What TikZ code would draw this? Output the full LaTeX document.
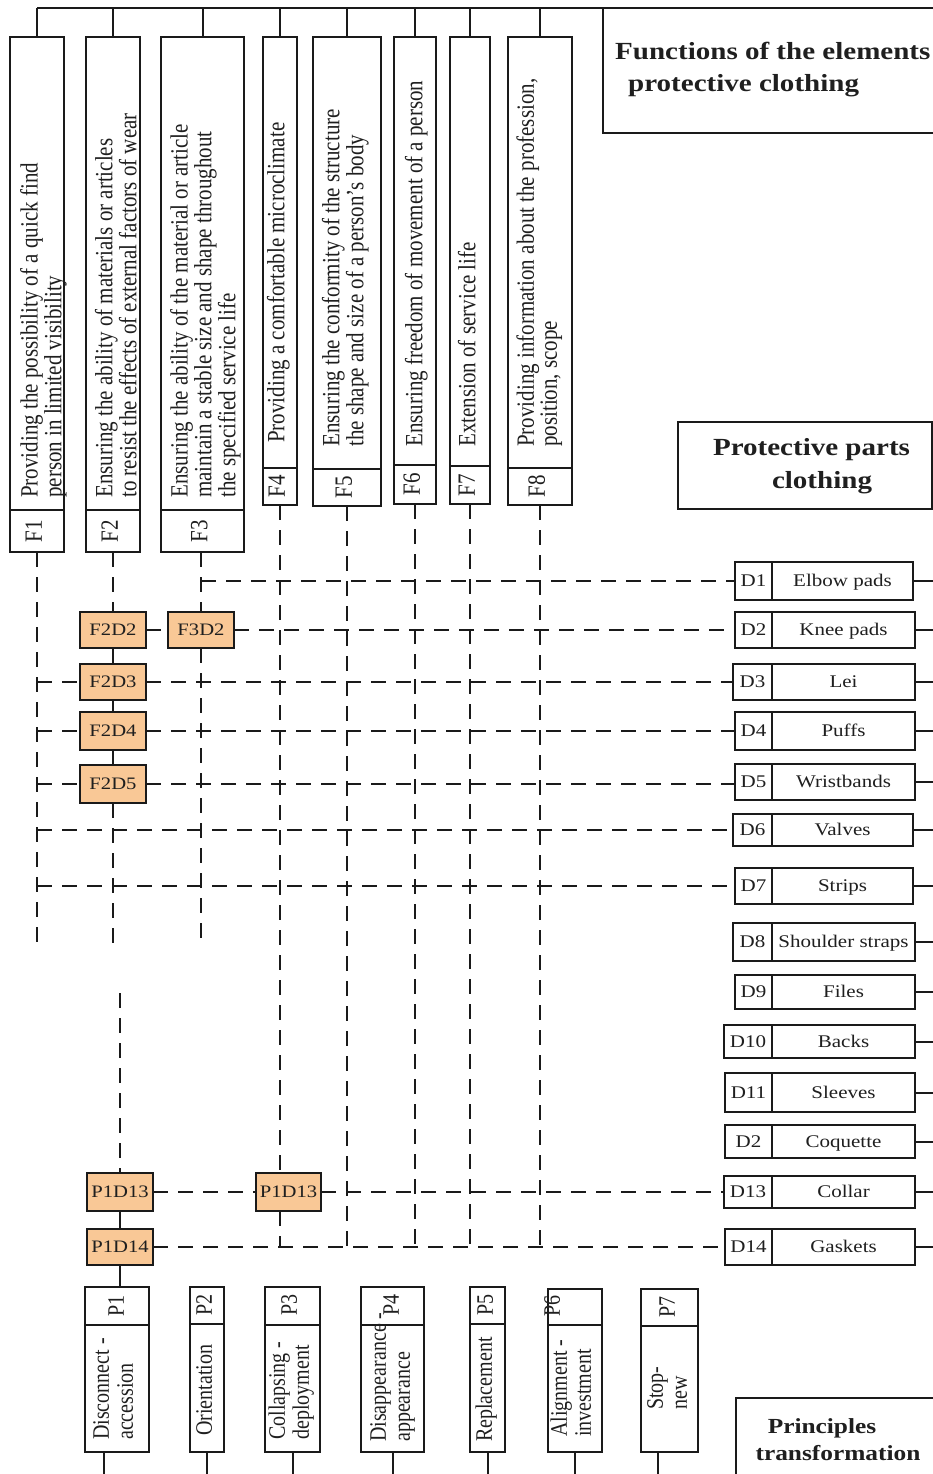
\documentclass[tikz,border=0pt]{standalone}
\usepackage{fontspec}
\usepackage{graphicx}
\setmainfont{Liberation Serif}[FakeStretch=1.18]
\newfontfamily\vfont{Liberation Serif}
\definecolor{linecol}{HTML}{1A1A1A}
\definecolor{txtcol}{HTML}{1F1F1F}
\definecolor{orangefill}{HTML}{F9C896}
\newcommand{\vtt}[1]{\scalebox{1}[1.18]{\begin{tabular}{@{}l@{}}#1\end{tabular}}}
\newcommand{\mybox}[6][]{\node[boxst,#1,anchor=north west,minimum width={(#4)-(#2)},minimum height={(#5)-(#3)}] (#6) at (#2,#3) {};}
\newcommand{\dbox}[7]{%
  \mybox{#2}{#3}{772}{#5}{D#1}
  \mybox{772}{#3}{#4}{#5}{D#1n}
  \node[htx] (D#1t) at (D#1) {#6};
  \node[htx] (D#1nt) at (D#1n) {#7};
  \draw[sld] (D#1n.east) -- (D#1n.east -| edge);
}
\newcommand{\obx}[6]{%
  \mybox[obox]{#3}{#4}{#5}{#6}{#1}
  \node[otx] (#1t) at (#1) {#2};
}
\tikzset{
  boxst/.style={draw=linecol, line width=1.8pt, inner sep=0pt, outer sep=0pt, fill=white},
  obox/.style={fill=orangefill},
  dsh/.style={draw=linecol, line width=2pt, dash pattern=on 15pt off 10pt},
  sld/.style={draw=linecol, line width=2pt},
  vtx/.style={rotate=90, inner sep=0pt, text=txtcol, font=\vfont\fontsize{21}{18.6}\selectfont},
  ptx/.style={rotate=90, inner sep=0pt, text=txtcol, font=\vfont\fontsize{20}{20.3}\selectfont},
  htx/.style={inner sep=0pt, text=txtcol, font=\fontsize{17.8}{20}\selectfont, anchor=center, text height=11.8pt, text depth=0pt},
  otx/.style={inner sep=0pt, text=txtcol, font=\fontsize{17.5}{20}\selectfont, anchor=center, text height=11.6pt, text depth=0pt},
  ttl/.style={inner sep=0pt, text=txtcol, font=\bfseries\fontsize{24.6}{28}\selectfont, anchor=base},
  ttlb/.style={inner sep=0pt, text=txtcol, font=\bfseries\fontsize{21.5}{26}\selectfont, anchor=base},
}
\begin{document}
\begin{tikzpicture}[x=1pt,y=-1pt]
\useasboundingbox (0,0) rectangle (933,1474);
\fill[white] (0,0) rectangle (933,1474);
\clip (0,0) rectangle (933,1474);
\coordinate (busL) at (37,8);
\coordinate (busR) at (933,8);
\coordinate (edge) at (933,0);
\coordinate (colend) at (0,945);
\coordinate (bot) at (0,1474);
\coordinate (p1start) at (120,993);

% title boxes
\mybox{603}{8}{960}{133}{FT}
\mybox{678}{422}{932}{509}{PP}
\mybox{736}{1398}{960}{1500}{PT}
\node[ttl, anchor=base west] (T1a) at (615,60) {Functions of the elements};
\node[ttl, anchor=base west] (T1b) at (628,92) {protective clothing};
\node[ttl] (T2a) at (811.5,455) {Protective parts};
\node[ttl] (T2b) at (822,488) {clothing};
\node[ttlb] (T3a) at (822,1433) {Principles};
\node[ttlb] (T3b) at (838,1460) {transformation};

% function boxes
\mybox{10}{37}{64}{510}{F1t}   \mybox{10}{510}{64}{552}{F1}
\mybox{86}{37}{140}{510}{F2t}  \mybox{86}{510}{140}{552}{F2}
\mybox{161}{37}{244}{510}{F3t} \mybox{161}{510}{244}{552}{F3}
\mybox{263}{37}{297}{468}{F4t} \mybox{263}{468}{297}{505}{F4}
\mybox{313}{37}{381}{469}{F5t} \mybox{313}{469}{381}{506}{F5}
\mybox{394}{37}{436}{465}{F6t} \mybox{394}{465}{436}{504}{F6}
\mybox{450}{37}{490}{466}{F7t} \mybox{450}{466}{490}{504}{F7}
\mybox{508}{37}{572}{468}{F8t} \mybox{508}{468}{572}{505}{F8}

\node[vtx,anchor=west] (F1x) at (44,498) {\vtt{Providing the possibility of a quick find\\person in limited visibility}};
\node[vtx,anchor=west] (F2x) at (119,498) {\vtt{Ensuring the ability of materials or articles\\to resist the effects of external factors of wear}};
\node[vtx,anchor=west] (F3x) at (206,498) {\vtt{Ensuring the ability of the material or article\\maintain a stable size and shape throughout\\the specified service life}};
\node[vtx,anchor=west] (F4x) at (279,443) {\vtt{Providing a comfortable microclimate}};
\node[vtx,anchor=west] (F5x) at (346,447) {\vtt{Ensuring the conformity of the structure\\the shape and size of a person’s body}};
\node[vtx,anchor=west] (F6x) at (417,447) {\vtt{Ensuring freedom of movement of a person}};
\node[vtx,anchor=west] (F7x) at (470,447) {\vtt{Extension of service life}};
\node[vtx,anchor=west] (F8x) at (540,447) {\vtt{Providing information about the profession,\\position, scope}};

\node[vtx] (F1l) at (F1) {\vtt{F1}};
\node[vtx] (F2l) at (F2) {\vtt{F2}};
\node[vtx] (F3l) at (F3) {\vtt{F3}};
\node[vtx] (F4l) at (F4) {\vtt{F4}};
\node[vtx] (F5l) at (F5) {\vtt{F5}};
\node[vtx] (F6l) at (F6) {\vtt{F6}};
\node[vtx] (F7l) at (F7) {\vtt{F7}};
\node[vtx] (F8l) at (F8) {\vtt{F8}};

% top bus and stems
\draw[sld] (F1t.north |- busL) -- (busR);
\draw[sld] (F1t.north |- busL) -- (F1t.north);
\draw[sld] (F2t.north |- busL) -- (F2t.north);
\draw[sld] (F3t.north |- busL) -- (F3t.north);
\draw[sld] (F4t.north |- busL) -- (F4t.north);
\draw[sld] (F5t.north |- busL) -- (F5t.north);
\draw[sld] (F6t.north |- busL) -- (F6t.north);
\draw[sld] (F7t.north |- busL) -- (F7t.north);
\draw[sld] (F8t.north |- busL) -- (F8t.north);

% parts boxes
\dbox{1}{735}{562}{913}{600}{D1}{Elbow pads}
\dbox{2}{735}{612}{915}{648}{D2}{Knee pads}
\dbox{3}{733}{664}{915}{700}{D3}{Lei}
\dbox{4}{735}{712}{915}{750}{D4}{Puffs}
\dbox{5}{735}{764}{915}{800}{D5}{Wristbands}
\dbox{6}{733}{814}{913}{846}{D6}{Valves}
\dbox{7}{735}{868}{913}{904}{D7}{Strips}
\dbox{8}{733}{923}{915}{961}{D8}{Shoulder straps}
\dbox{9}{735}{975}{915}{1009}{D9}{Files}
\dbox{10}{724}{1025}{915}{1058}{D10}{Backs}
\dbox{11}{725}{1073}{915}{1112}{D11}{Sleeves}
\dbox{12}{725}{1125}{915}{1158}{D2}{Coquette}
\dbox{13}{724}{1176}{915}{1208}{D13}{Collar}
\dbox{14}{725}{1229}{915}{1265}{D14}{Gaskets}

% orange boxes
\obx{F2D2}{F2D2}{80}{612}{146}{648}
\obx{F3D2}{F3D2}{168}{612}{234}{648}
\obx{F2D3}{F2D3}{80}{664}{146}{700}
\obx{F2D4}{F2D4}{80}{712}{146}{750}
\obx{F2D5}{F2D5}{80}{765}{146}{803}
\obx{P1D13a}{P1D13}{87}{1173}{153}{1211}
\obx{P1D13b}{P1D13}{256}{1173}{321}{1211}
\obx{P1D14}{P1D14}{87}{1229}{153}{1265}

% principle boxes
\mybox{85}{1287}{149}{1325}{P1a}  \mybox{85}{1325}{149}{1452}{P1b}
\mybox{190}{1287}{224}{1324}{P2a} \mybox{190}{1324}{224}{1452}{P2b}
\mybox{265}{1287}{320}{1325}{P3a} \mybox{265}{1325}{320}{1452}{P3b}
\mybox{361}{1287}{424}{1325}{P4a} \mybox{361}{1325}{424}{1452}{P4b}
\mybox{470}{1287}{505}{1324}{P5a} \mybox{470}{1324}{505}{1452}{P5b}
\mybox{548}{1289}{602}{1325}{P6a} \mybox{548}{1325}{602}{1452}{P6b}
\mybox{641}{1289}{698}{1326}{P7a} \mybox{641}{1326}{698}{1452}{P7b}

\node[ptx] (P1l) at (119,1306) {\vtt{P1}};
\node[ptx] (P2l) at (207,1305) {\vtt{P2}};
\node[ptx] (P3l) at (292,1305) {\vtt{P3}};
\node[ptx] (P4l) at (394,1305) {\vtt{P4}};
\node[ptx] (P5l) at (488,1305) {\vtt{P5}};
\node[ptx] (P6l) at (555,1306) {\vtt{P6}};
\node[ptx] (P7l) at (670,1307) {\vtt{P7}};

\node[ptx,anchor=west] (P1x) at (116,1440) {\vtt{Disconnect -\\accession}};
\node[ptx,anchor=west] (P2x) at (207,1436) {\vtt{Orientation}};
\node[ptx,anchor=west] (P3x) at (292,1440) {\vtt{Collapsing -\\deployment}};
\node[ptx,anchor=west] (P4x) at (393,1442) {\vtt{Disappearance -\\appearance}};
\node[ptx,anchor=west] (P5x) at (487,1442) {\vtt{Replacement}};
\node[ptx,anchor=west] (P6x) at (574,1437) {\vtt{Alignment -\\investment}};
\node[ptx,anchor=west] (P7x) at (670,1410) {\vtt{Stop-\\new}};

% bottom stems
\coordinate (s1) at ([xshift=-13pt]P1b.south);
\coordinate (s7) at ([xshift=-12pt]P7b.south);
\draw[sld] (s1) -- (s1 |- bot);
\draw[sld] (P2b.south) -- (P2b.south |- bot);
\draw[sld] (P3b.south) -- (P3b.south |- bot);
\draw[sld] (P4b.south) -- (P4b.south |- bot);
\draw[sld] (P5b.south) -- (P5b.south |- bot);
\draw[sld] (P6b.south) -- (P6b.south |- bot);
\draw[sld] (s7) -- (s7 |- bot);

% dashed columns
\draw[dsh] (F1.south) -- (F1.south |- colend);
\draw[dsh] (F2D2.north |- F2.south) -- (F2D2.north);
\draw[dsh] (F2D5.south) -- (F2D5.south |- colend);
\draw[dsh] (F3D2.north |- F3.south) -- (F3D2.north);
\draw[dsh] (F3D2.south) -- (F3D2.south |- colend);
\draw[dsh] (p1start) -- (P1D13a.north);
\draw[dsh] (F4.south) -- (F4.south |- P1D13b.north);
\draw[dsh] (F4.south |- P1D13b.south) -- (F4.south |- D14.west);
\draw[dsh] (F5.south) -- (F5.south |- D14.west);
\draw[dsh] (F6.south) -- (F6.south |- D14.west);
\draw[dsh] (F7.south) -- (F7.south |- D14.west);
\draw[dsh] (F8.south) -- (F8.south |- D14.west);

% dashed rows
\draw[dsh] (D1.west -| F3D2.north) -- (D1.west);
\draw[dsh] (F2D2.east) -- (F3D2.west);
\draw[dsh] (F3D2.east) -- (F3D2.east -| D2.west);
\draw[dsh] (F2D3.west -| F1.south) -- (F2D3.west);
\draw[dsh] (F2D3.east) -- (F2D3.east -| D3.west);
\draw[dsh] (F2D4.west -| F1.south) -- (F2D4.west);
\draw[dsh] (F2D4.east) -- (F2D4.east -| D4.west);
\draw[dsh] (F2D5.west -| F1.south) -- (F2D5.west);
\draw[dsh] (F2D5.east) -- (F2D5.east -| D5.west);
\draw[dsh] (D6.west -| F1.south) -- (D6.west);
\draw[dsh] (D7.west -| F1.south) -- (D7.west);
\draw[dsh] (P1D13a.east) -- (P1D13b.west);
\draw[dsh] (P1D13b.east) -- (P1D13b.east -| D13.west);
\draw[dsh] (P1D14.east) -- (P1D14.east -| D14.west);

% solid links
\draw[sld] (F2D2.south) -- (F2D3.north);
\draw[sld] (F2D3.south) -- (F2D4.north);
\draw[sld] (F2D4.south) -- (F2D5.north);
\draw[sld] (P1D13a.south) -- (P1D14.north);
\draw[sld] (P1D14.south) -- (P1D14.south |- P1a.north);
\end{tikzpicture}
\end{document}
